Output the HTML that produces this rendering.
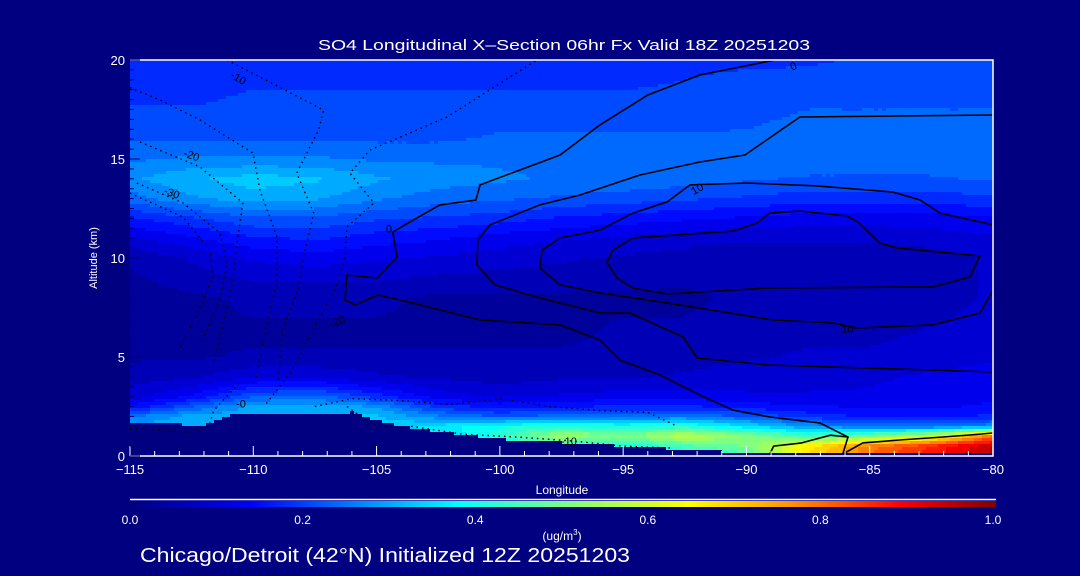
<!DOCTYPE html>
<html><head><meta charset="utf-8"><style>
html,body{margin:0;padding:0;background:#000080;}
svg{display:block;font-family:"Liberation Sans",sans-serif;}
</style></head><body>
<svg id="chart" width="1080" height="576" viewBox="0 0 1080 576" xmlns="http://www.w3.org/2000/svg">
<rect x="0" y="0" width="1080" height="576" fill="#000080"/>
<g id="field"></g>
<g id="contours"></g>
<g id="axes"></g>
<text x="318" y="50" fill="#fff" font-size="15" textLength="492" lengthAdjust="spacingAndGlyphs">SO4 Longitudinal X–Section 06hr  Fx Valid 18Z 20251203</text>
<text transform="translate(97,258) rotate(-90)" fill="#fff" font-size="11" text-anchor="middle">Altitude (km)</text>
<text x="562" y="494" fill="#fff" font-size="12" text-anchor="middle">Longitude</text>
<g id="cbar"></g>
<text x="562" y="540" fill="#fff" font-size="12" text-anchor="middle">(ug/m<tspan font-size="8" dy="-5">3</tspan><tspan dy="5">)</tspan></text>
<text x="140" y="562" fill="#fff" font-size="20" textLength="490" lengthAdjust="spacingAndGlyphs">Chicago/Detroit (42°N) Initialized 12Z 20251203</text>
</svg>
<script>
const lons=[-115,-112.5,-110,-107.5,-105,-102.5,-100,-97.5,-95,-92.5,-90,-87.5,-85,-82.5,-80];
const alts=[0,0.5,1,1.5,2,2.5,3,4,5,6,8,10,11,12,13,14,15,16,18,20];
const r0=[0.3,0.3,0.3,0.3,0.3,0.33,0.36,0.38,0.38,0.4,0.45,0.68,0.8,0.87,0.95];
const r05=[0.3,0.3,0.3,0.3,0.3,0.33,0.37,0.42,0.4,0.45,0.5,0.66,0.78,0.86,0.95];
const r1=[0.3,0.3,0.3,0.3,0.3,0.34,0.42,0.55,0.5,0.58,0.52,0.45,0.5,0.6,0.8];
const r15=[0.3,0.3,0.3,0.3,0.32,0.36,0.4,0.42,0.4,0.42,0.35,0.28,0.24,0.24,0.28];
const r2=[0.25,0.3,0.3,0.32,0.32,0.26,0.22,0.24,0.25,0.25,0.22,0.18,0.16,0.16,0.17];
const r25=[0.14,0.22,0.3,0.3,0.28,0.18,0.15,0.16,0.17,0.17,0.15,0.14,0.13,0.13,0.14];
const r3=[0.09,0.14,0.22,0.24,0.18,0.12,0.1,0.11,0.12,0.12,0.11,0.11,0.11,0.12,0.13];
const r4=[0.06,0.07,0.1,0.1,0.08,0.07,0.06,0.07,0.07,0.08,0.09,0.09,0.1,0.11,0.12];
const r5=[0.04,0.04,0.05,0.05,0.05,0.05,0.05,0.05,0.06,0.06,0.07,0.08,0.08,0.09,0.1];
const r6=[0.03,0.04,0.04,0.04,0.04,0.04,0.04,0.04,0.05,0.05,0.06,0.07,0.07,0.08,0.09];
const r8=[0.03,0.04,0.05,0.05,0.05,0.04,0.04,0.04,0.04,0.04,0.05,0.05,0.05,0.06,0.08];
const r10=[0.05,0.08,0.11,0.12,0.11,0.1,0.09,0.08,0.07,0.06,0.05,0.05,0.05,0.06,0.08];
const r11=[0.1,0.13,0.16,0.17,0.15,0.14,0.12,0.11,0.1,0.09,0.08,0.08,0.08,0.09,0.1];
const r12=[0.16,0.19,0.22,0.22,0.2,0.19,0.18,0.16,0.15,0.14,0.13,0.12,0.12,0.12,0.13];
const r13=[0.24,0.28,0.3,0.29,0.26,0.24,0.23,0.22,0.21,0.2,0.19,0.18,0.18,0.18,0.19];
const r14=[0.28,0.31,0.33,0.32,0.29,0.27,0.26,0.25,0.25,0.24,0.23,0.22,0.22,0.22,0.23];
const r15k=[0.25,0.26,0.26,0.26,0.25,0.25,0.25,0.25,0.25,0.25,0.25,0.25,0.25,0.25,0.25];
const r16=[0.22,0.22,0.22,0.22,0.22,0.22,0.23,0.23,0.23,0.23,0.23,0.24,0.24,0.24,0.24];
const r18=[0.19,0.19,0.2,0.2,0.2,0.2,0.2,0.2,0.2,0.2,0.21,0.22,0.22,0.22,0.22];
const r20=[0.18,0.18,0.18,0.18,0.18,0.18,0.18,0.18,0.18,0.19,0.19,0.19,0.2,0.2,0.2];
const grid=[r0,r05,r1,r15,r2,r25,r3,r4,r5,r6,r8,r10,r11,r12,r13,r14,r15k,r16,r18,r20];
const terrainLon=[-115,-113,-112,-111.5,-111,-106,-105,-104,-102,-100,-97,-95,-92,-90,-88,-80];
const terrainAlt=[1.7,1.6,1.55,1.8,2.05,2.2,1.8,1.5,1.15,0.85,0.65,0.5,0.3,0.15,0.12,0.12];
const xTicks=[-115,-110,-105,-100,-95,-90,-85,-80];
const yTicks=[0,5,10,15,20];
const cbTicks=["0.0","0.2","0.4","0.6","0.8","1.0"];
// contours in [lon, alt]
const contourZeroOuter=[[-88.84,20],[-91.89,19.24],[-94,18.23],[-95.94,16.72],[-97.56,15.2],[-99.2,14.44],[-100.8,13.69],[-100.97,12.93],[-102.43,12.68],[-103.65,11.82],[-104.34,11.31],[-104.17,10.05],[-104.98,8.99],[-106.2,9.14],[-106.28,7.88],[-105.88,7.63],[-104.94,8.13],[-104.05,7.88],[-100.8,6.87],[-97.56,6.62],[-95.94,5.86],[-95.13,4.85],[-93.51,4.09],[-91.89,3.08],[-90.55,2.32],[-89.05,1.97],[-87.02,1.67],[-85.88,0.96],[-86.09,0.1]];
const contourSurface=[[-89.05,0.1],[-88.9,0.5],[-87.8,0.65],[-86.6,1.05],[-85.88,0.96]];
const contourRed=[[-86.09,0.1],[-85.28,0.66],[-83.78,0.81],[-82.03,0.96],[-80.94,1.06],[-80,1.16]];
const contourTenOuter=[[-80,17.22],[-87.83,17.12],[-90.06,15.2],[-91.89,14.85],[-94.32,14.19],[-96.75,13.18],[-98.37,12.68],[-100.4,11.67],[-100.89,10.91],[-100.93,9.65],[-100.2,8.64],[-98.37,7.98],[-95.94,7.22],[-94.72,7.22],[-92.57,6.01],[-92,4.95],[-89.17,4.6],[-80,4.24]];
const contourTenMid=[[-80,11.67],[-82.15,12.27],[-82.96,12.93],[-84.06,13.33],[-87.14,13.64],[-89.98,13.79],[-92.29,13.69],[-93.22,12.83],[-94.6,12.27],[-95.94,11.41],[-97.56,11.01],[-98.29,10.4],[-98.37,9.49],[-97.56,8.64],[-95.94,8.23],[-93.22,7.73],[-88.93,6.87],[-86.49,6.72],[-85.52,6.46],[-82.44,6.62],[-80.53,7.22],[-80,8.38]];
const contourInner=[[-89.05,12.27],[-87.83,12.37],[-85.92,12.12],[-85.48,11.82],[-84.59,10.76],[-83.9,10.51],[-80.53,10.1],[-80.94,9.04],[-82.44,8.54],[-89.17,8.48],[-93.22,8.18],[-94.6,8.48],[-95.25,8.99],[-95.66,9.8],[-95.41,10.4],[-94.6,11.01],[-90.55,11.36],[-89.57,11.77],[-89.05,12.27]];
const dotA=[[-111.07,20],[-109.73,19.14],[-107.15,17.47],[-107.35,16.46],[-108.24,14.29],[-107.55,12.27],[-107.96,10.05],[-108.2,8.4],[-108.8,6.4],[-109,3.8]];
const dotB=[[-115,18.6],[-113.78,17.98],[-112.16,16.97],[-110.01,15.3],[-109.73,13.43],[-109.04,11.06],[-109.04,8.89],[-109.5,6.4],[-109.9,3.9]];
const dotC=[[-114.6,15.86],[-112.16,14.6],[-110.42,12.78],[-110.66,10.76],[-110.82,8.89],[-111.2,6.8],[-111.6,4.8]];
const dotD=[[-114.72,13.79],[-112.85,12.78],[-111.35,11.26],[-111.07,9.75],[-111.35,7.9],[-112.1,5.8]];
const dotE=[[-115,13.28],[-112.85,12.07],[-111.76,10.4],[-111.64,9.04],[-112.2,7.4],[-113,5.4]];
const dotF=[[-98.37,20.1],[-102.14,17.12],[-105.27,15.45],[-106.08,14.29],[-105.11,12.78],[-106.2,11.57],[-106.28,10.05],[-106.7,8.4],[-107.5,6.5],[-108.5,4.2],[-109.5,2.6]];
const dotLowW=[[-115,1.4],[-113.8,1.3],[-112.6,1.2],[-111.8,1.5],[-111.6,2.3],[-110.5,3.8]];
const dotLowMid=[[-103.6,1.5],[-101.5,1.1],[-99.2,0.95],[-97,0.75],[-95,0.5],[-93,0.4]];
const dotLowB=[[-107.5,2.5],[-106,2.9],[-104,2.8],[-102,2.6],[-100,2.9],[-98,2.5],[-96,2.3],[-94,2.2],[-92.8,1.5]];
const dotLowC=[[-106.2,2.5],[-105.2,1.6],[-103.8,1.4]];
const labels=[["0",-104.5,11.5,0],["10",-92.0,13.5,-30],["10",-85.9,6.45,0],["-10",-110.6,19.1,30],["-20",-112.5,15.2,20],["-30",-113.3,13.3,20],["-0",-110.5,2.65,0],["-10",-97.2,0.75,0],["-20",-106.6,6.8,-20],["0",-88.1,19.7,-20]];

const X0=130,X1=993,Y0=456,Y1=60;
const xS=l=>X0+(l+115)*(X1-X0)/35;
const yS=a=>Y0-a*(Y0-Y1)/20;
const xInv=x=>-115+(x-X0)*35/(X1-X0);
const yInv=y=>(Y0-y)*20/(Y0-Y1);
const NS="http://www.w3.org/2000/svg";
function mk(tag,attrs,parent){const e=document.createElementNS(NS,tag);for(const k in attrs)e.setAttribute(k,attrs[k]);parent.appendChild(e);return e;}
function interp1(xs,ys,x){if(x<=xs[0])return ys[0];for(let i=1;i<xs.length;i++){if(x<=xs[i]){const t=(x-xs[i-1])/(xs[i]-xs[i-1]);return ys[i-1]+t*(ys[i]-ys[i-1]);}}return ys[ys.length-1];}
function field(l,a){let i=0;while(i<lons.length-2&&l>lons[i+1])i++;let j=0;while(j<alts.length-2&&a>alts[j+1])j++;
 const tx=Math.max(0,Math.min(1,(l-lons[i])/(lons[i+1]-lons[i])));const ty=Math.max(0,Math.min(1,(a-alts[j])/(alts[j+1]-alts[j])));
 const v00=grid[j][i],v10=grid[j][i+1],v01=grid[j+1][i],v11=grid[j+1][i+1];
 return (v00*(1-tx)+v10*tx)*(1-ty)+(v01*(1-tx)+v11*tx)*ty;}
const stops=[[0,[0,0,128]],[0.14,[0,0,255]],[0.38,[0,255,255]],[0.51,[128,255,128]],[0.645,[255,255,0]],[0.77,[255,140,0]],[0.89,[255,0,0]],[1,[128,0,0]]];
function col(v){v=Math.max(0,Math.min(1,v));for(let i=1;i<stops.length;i++){if(v<=stops[i][0]){const t=(v-stops[i-1][0])/(stops[i][0]-stops[i-1][0]);const a=stops[i-1][1],b=stops[i][1];return "rgb("+a.map((c,k)=>Math.round(c+t*(b[k]-c))).join(",")+")";}}return "rgb(128,0,0)";}
// field
const fg=document.getElementById('field');
const cw=4,ch=3;
for(let y=Y1;y<Y0;y+=ch){let runStart=X0,runCol=null;
 const flush=(xe)=>{if(runCol){const r=mk('rect',{x:runStart,y:y,width:xe-runStart,height:Math.min(ch,Y0-y),fill:runCol},fg);}};
 for(let x=X0;x<X1;x+=cw){const l=xInv(x+cw/2),a=yInv(y+ch/2);const ter=interp1(terrainLon,terrainAlt,l);
  let c;if(a<ter)c="#000080";else{const v=Math.round(field(l,a)/0.03)*0.03;c=col(v);}
  if(c!==runCol){flush(x);runStart=x;runCol=c;}}
 flush(X1);}
// contours
const cg=document.getElementById('contours');
const pts=arr=>arr.map(p=>xS(p[0]).toFixed(1)+","+yS(p[1]).toFixed(1)).join(" ");
[[contourZeroOuter,'contour-zero-outer'],[contourSurface,'contour-surface'],[contourRed,'contour-red-region'],[contourTenOuter,'contour-ten-outer'],[contourTenMid,'contour-ten-mid'],[contourInner,'contour-inner']].forEach(([d,n])=>{
 const e=mk('polyline',{points:pts(d),fill:'none',stroke:'#000','stroke-width':1.6},cg);
 
 });
[dotA,dotB,dotC,dotD,dotE,dotF,dotLowW,dotLowMid,dotLowB,dotLowC].forEach((d,i)=>{
 const e=mk('polyline',{points:pts(d),fill:'none',stroke:'#000','stroke-width':1.4,'stroke-dasharray':'1.5,4'},cg);
 
 });
labels.forEach(([t,l,a,r])=>{const x=xS(l),y=yS(a);
 const e=mk('text',{x:x,y:y+4,'font-size':11,fill:'#000','text-anchor':'middle',transform:`rotate(${r},${x},${y})`},cg);e.textContent=t;
 
 });
// axes
const ag=document.getElementById('axes');
const fr=mk('path',{d:`M${X0},${Y1}H${X1}V${Y0}H${X0}`,fill:'none',stroke:'#fff','stroke-width':1.5},ag);


for(let l=-115;l<=-80;l++){const major=(l%5===0);const t=mk('line',{x1:xS(l),x2:xS(l),y1:Y0,y2:Y0-(major?10:5),stroke:'#fff','stroke-width':1},ag);
 
 }
for(let a=0;a<=20;a+=0.5){const major=(a%5===0);const t=mk('line',{x1:X0,x2:X0+(major?10:4),y1:yS(a),y2:yS(a),stroke:'#000060','stroke-width':1},ag);
 
 }
xTicks.forEach(l=>{const e=mk('text',{x:xS(l),y:474,fill:'#fff','font-size':13,'text-anchor':'middle'},ag);e.textContent=l<0?'−'+(-l):String(l);
 
 });
yTicks.forEach(a=>{const e=mk('text',{x:125,y:yS(a)+5,fill:'#fff','font-size':13,'text-anchor':'end'},ag);e.textContent=a;
 
 });
// colorbar
const cb=document.getElementById('cbar');
const defs=mk('defs',{},cb);const lg=mk('linearGradient',{id:'cg',x1:0,x2:1,y1:0,y2:0},defs);
stops.forEach(s=>mk('stop',{offset:s[0],'stop-color':`rgb(${s[1].join(',')})`},lg));
const bl=mk('line',{x1:130,x2:996,y1:499.5,y2:499.5,stroke:'#fff','stroke-width':1.5},cb);


const br=mk('rect',{x:130,y:501,width:866,height:6,fill:'url(#cg)'},cb);


cbTicks.forEach((t,i)=>{const e=mk('text',{x:130+i*172.6,y:524,fill:'#fff','font-size':12,'text-anchor':'middle'},cb);e.textContent=t;
 
 });
</script>
</body></html>
